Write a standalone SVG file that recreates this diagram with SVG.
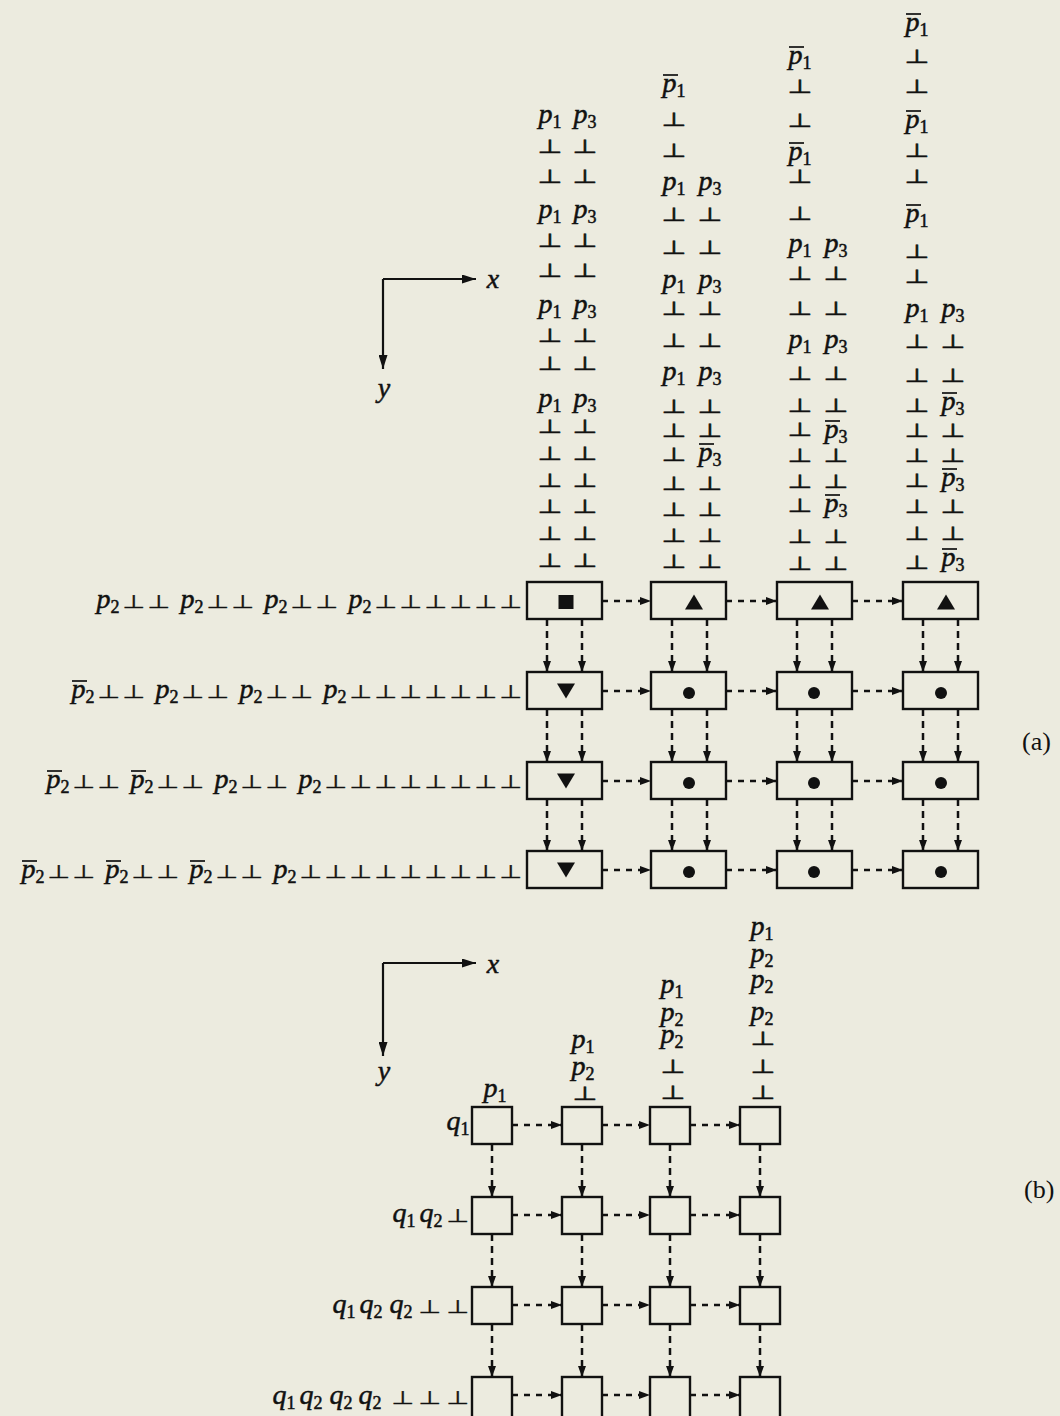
<svg xmlns="http://www.w3.org/2000/svg" width="1060" height="1416" viewBox="0 0 1060 1416">
<style>
.m{font-family:"Liberation Serif",serif;font-style:italic;font-size:28px;fill:#111;stroke:#111;stroke-width:0.5;text-anchor:middle}
.s{font-style:normal;font-size:18px}
.bv{font-family:"DejaVu Sans",sans-serif;font-size:19px;fill:#111;stroke:#111;stroke-width:0.5;text-anchor:middle}
.bh{font-family:"DejaVu Sans",sans-serif;font-size:26px;fill:#111;stroke:#111;stroke-width:0.5;text-anchor:middle}
.bar{stroke:#111;stroke-width:1.7}
.box{fill:none;stroke:#111;stroke-width:2.4}
.sym{fill:#111}
.dh{fill:none;stroke:#111;stroke-width:2.5;stroke-dasharray:6 6;marker-end:url(#ah)}
.dv{fill:none;stroke:#111;stroke-width:2.5;stroke-dasharray:7 5;marker-end:url(#ah)}
.ax{fill:none;stroke:#111;stroke-width:2.2;marker-end:url(#ah2)}
.lab{font-family:"Liberation Serif",serif;font-size:26px;fill:#111}
</style>
<defs>
<marker id="ah" viewBox="0 0 11 8" refX="11" refY="4" markerWidth="11" markerHeight="8" markerUnits="userSpaceOnUse" orient="auto"><path d="M0,0 L11,4 L0,8 z" fill="#111"/></marker>
<marker id="ah2" viewBox="0 0 14 9" refX="14" refY="4.5" markerWidth="14" markerHeight="9" markerUnits="userSpaceOnUse" orient="auto"><path d="M0,0 L14,4.5 L0,9 z" fill="#111"/></marker>
</defs>
<rect x="0" y="0" width="1060" height="1416" fill="#ecebdf"/>

<!-- ===== Part (a) ===== -->
<g id="axes-a">
<path class="ax" d="M383,279 H476"/>
<path class="ax" d="M383,279 V369"/>
<text class="m" x="493" y="288">x</text>
<text class="m" x="384" y="397">y</text>
</g>

<g id="col-a1">
<text class="m" x="550" y="123">p<tspan class="s" dy="5">1</tspan></text>
<text class="m" x="585" y="123">p<tspan class="s" dy="5">3</tspan></text>
<text class="m" x="550" y="218">p<tspan class="s" dy="5">1</tspan></text>
<text class="m" x="585" y="218">p<tspan class="s" dy="5">3</tspan></text>
<text class="m" x="550" y="313">p<tspan class="s" dy="5">1</tspan></text>
<text class="m" x="585" y="313">p<tspan class="s" dy="5">3</tspan></text>
<text class="m" x="550" y="407">p<tspan class="s" dy="5">1</tspan></text>
<text class="m" x="585" y="407">p<tspan class="s" dy="5">3</tspan></text>
<text class="bv" transform="matrix(1.5 0 0 1 -275 0)" x="550 550 550 550 550 550 550 550 550 550 550 550" y="153 183 247 277 342 370 433 460 487 513 540 567">⊥⊥⊥⊥⊥⊥⊥⊥⊥⊥⊥⊥</text>
<text class="bv" transform="matrix(1.5 0 0 1 -292.5 0)" x="585 585 585 585 585 585 585 585 585 585 585 585" y="153 183 247 277 342 370 433 460 487 513 540 567">⊥⊥⊥⊥⊥⊥⊥⊥⊥⊥⊥⊥</text>
</g>

<g id="col-a2">
<text class="m" x="674" y="92">p<tspan class="s" dy="5">1</tspan></text>
<line class="bar" x1="663" y1="75" x2="678" y2="75"/>
<text class="m" x="674" y="190">p<tspan class="s" dy="5">1</tspan></text>
<text class="m" x="710" y="190">p<tspan class="s" dy="5">3</tspan></text>
<text class="m" x="674" y="288">p<tspan class="s" dy="5">1</tspan></text>
<text class="m" x="710" y="288">p<tspan class="s" dy="5">3</tspan></text>
<text class="m" x="674" y="380">p<tspan class="s" dy="5">1</tspan></text>
<text class="m" x="710" y="380">p<tspan class="s" dy="5">3</tspan></text>
<text class="m" x="710" y="461">p<tspan class="s" dy="5">3</tspan></text>
<line class="bar" x1="699" y1="444" x2="714" y2="444"/>
<text class="bv" transform="matrix(1.5 0 0 1 -337 0)" x="674 674 674 674 674 674 674 674 674 674 674 674 674" y="126 157 221 254 315 347 413 437 461 490 516 542 568">⊥⊥⊥⊥⊥⊥⊥⊥⊥⊥⊥⊥⊥</text>
<text class="bv" transform="matrix(1.5 0 0 1 -355 0)" x="710 710 710 710 710 710 710 710 710 710" y="221 254 315 347 413 437 490 516 542 568">⊥⊥⊥⊥⊥⊥⊥⊥⊥⊥</text>
</g>

<g id="col-a3">
<text class="m" x="800" y="64">p<tspan class="s" dy="5">1</tspan></text>
<line class="bar" x1="789" y1="47" x2="804" y2="47"/>
<text class="m" x="800" y="160">p<tspan class="s" dy="5">1</tspan></text>
<line class="bar" x1="789" y1="143" x2="804" y2="143"/>
<text class="m" x="800" y="252">p<tspan class="s" dy="5">1</tspan></text>
<text class="m" x="836" y="252">p<tspan class="s" dy="5">3</tspan></text>
<text class="m" x="800" y="348">p<tspan class="s" dy="5">1</tspan></text>
<text class="m" x="836" y="348">p<tspan class="s" dy="5">3</tspan></text>
<text class="m" x="836" y="438">p<tspan class="s" dy="5">3</tspan></text>
<line class="bar" x1="825" y1="421" x2="840" y2="421"/>
<text class="m" x="836" y="512">p<tspan class="s" dy="5">3</tspan></text>
<line class="bar" x1="825" y1="495" x2="840" y2="495"/>
<text class="bv" transform="matrix(1.5 0 0 1 -400 0)" x="800 800 800 800 800 800 800 800 800 800 800 800 800 800" y="93 127 183 220 280 315 380 412 436 462 488 512 543 570">⊥⊥⊥⊥⊥⊥⊥⊥⊥⊥⊥⊥⊥⊥</text>
<text class="bv" transform="matrix(1.5 0 0 1 -418 0)" x="836 836 836 836 836 836 836 836" y="280 315 380 412 462 488 543 570">⊥⊥⊥⊥⊥⊥⊥⊥</text>
</g>

<g id="col-a4">
<text class="m" x="917" y="31">p<tspan class="s" dy="5">1</tspan></text>
<line class="bar" x1="906" y1="14" x2="921" y2="14"/>
<text class="m" x="917" y="128">p<tspan class="s" dy="5">1</tspan></text>
<line class="bar" x1="906" y1="111" x2="921" y2="111"/>
<text class="m" x="917" y="222">p<tspan class="s" dy="5">1</tspan></text>
<line class="bar" x1="906" y1="205" x2="921" y2="205"/>
<text class="m" x="917" y="317">p<tspan class="s" dy="5">1</tspan></text>
<text class="m" x="953" y="317">p<tspan class="s" dy="5">3</tspan></text>
<text class="m" x="953" y="410">p<tspan class="s" dy="5">3</tspan></text>
<line class="bar" x1="942" y1="393" x2="957" y2="393"/>
<text class="m" x="953" y="486">p<tspan class="s" dy="5">3</tspan></text>
<line class="bar" x1="942" y1="469" x2="957" y2="469"/>
<text class="m" x="953" y="566">p<tspan class="s" dy="5">3</tspan></text>
<line class="bar" x1="942" y1="549" x2="957" y2="549"/>
<text class="bv" transform="matrix(1.5 0 0 1 -458.5 0)" x="917 917 917 917 917 917 917 917 917 917 917 917 917 917 917" y="63 93 157 183 258 283 348 382 412 437 462 487 513 540 569">⊥⊥⊥⊥⊥⊥⊥⊥⊥⊥⊥⊥⊥⊥⊥</text>
<text class="bv" transform="matrix(1.5 0 0 1 -476.5 0)" x="953 953 953 953 953 953" y="348 382 437 462 513 540">⊥⊥⊥⊥⊥⊥</text>
</g>

<g id="row-a1">
<text class="m" x="108" y="608">p<tspan class="s" dy="5">2</tspan></text>
<text class="m" x="192" y="608">p<tspan class="s" dy="5">2</tspan></text>
<text class="m" x="276" y="608">p<tspan class="s" dy="5">2</tspan></text>
<text class="m" x="360" y="608">p<tspan class="s" dy="5">2</tspan></text>
<text class="bh" transform="matrix(1 0 0 0.7 0 182.4)" x="134 159 218 243 302 327 386 411 436 461 486 511" y="608">⊥⊥⊥⊥⊥⊥⊥⊥⊥⊥⊥⊥</text>
</g>
<g id="row-a2">
<text class="m" x="83" y="698">p<tspan class="s" dy="5">2</tspan></text>
<line class="bar" x1="72" y1="681" x2="87" y2="681"/>
<text class="m" x="167" y="698">p<tspan class="s" dy="5">2</tspan></text>
<text class="m" x="251" y="698">p<tspan class="s" dy="5">2</tspan></text>
<text class="m" x="335" y="698">p<tspan class="s" dy="5">2</tspan></text>
<text class="bh" transform="matrix(1 0 0 0.7 0 209.4)" x="109 134 193 218 277 302 361 386 411 436 461 486 511" y="698">⊥⊥⊥⊥⊥⊥⊥⊥⊥⊥⊥⊥⊥</text>
</g>
<g id="row-a3">
<text class="m" x="58" y="788">p<tspan class="s" dy="5">2</tspan></text>
<line class="bar" x1="47" y1="771" x2="62" y2="771"/>
<text class="m" x="142" y="788">p<tspan class="s" dy="5">2</tspan></text>
<line class="bar" x1="131" y1="771" x2="146" y2="771"/>
<text class="m" x="226" y="788">p<tspan class="s" dy="5">2</tspan></text>
<text class="m" x="310" y="788">p<tspan class="s" dy="5">2</tspan></text>
<text class="bh" transform="matrix(1 0 0 0.7 0 236.4)" x="84 109 168 193 252 277 336 361 386 411 436 461 486 511" y="788">⊥⊥⊥⊥⊥⊥⊥⊥⊥⊥⊥⊥⊥⊥</text>
</g>
<g id="row-a4">
<text class="m" x="33" y="878">p<tspan class="s" dy="5">2</tspan></text>
<line class="bar" x1="22" y1="861" x2="37" y2="861"/>
<text class="m" x="117" y="878">p<tspan class="s" dy="5">2</tspan></text>
<line class="bar" x1="106" y1="861" x2="121" y2="861"/>
<text class="m" x="201" y="878">p<tspan class="s" dy="5">2</tspan></text>
<line class="bar" x1="190" y1="861" x2="205" y2="861"/>
<text class="m" x="285" y="878">p<tspan class="s" dy="5">2</tspan></text>
<text class="bh" transform="matrix(1 0 0 0.7 0 263.4)" x="59 84 143 168 227 252 311 336 361 386 411 436 461 486 511" y="878">⊥⊥⊥⊥⊥⊥⊥⊥⊥⊥⊥⊥⊥⊥⊥</text>
</g>

<g id="a-r1c1"><rect class="box" x="527" y="582" width="75" height="37"/><rect class="sym" x="558.5" y="595" width="15" height="14"/></g>
<g id="a-r1c2"><rect class="box" x="651" y="582" width="75" height="37"/><polygon class="sym" points="685,609.5 703,609.5 694,594.5"/></g>
<g id="a-r1c3"><rect class="box" x="777" y="582" width="75" height="37"/><polygon class="sym" points="811,609.5 829,609.5 820,594.5"/></g>
<g id="a-r1c4"><rect class="box" x="903" y="582" width="75" height="37"/><polygon class="sym" points="937,609.5 955,609.5 946,594.5"/></g>
<g id="a-r2c1"><rect class="box" x="527" y="672" width="75" height="37"/><polygon class="sym" points="557,683.5 575,683.5 566,698.5"/></g>
<g id="a-r2c2"><rect class="box" x="651" y="672" width="75" height="37"/><circle class="sym" cx="689" cy="693" r="6"/></g>
<g id="a-r2c3"><rect class="box" x="777" y="672" width="75" height="37"/><circle class="sym" cx="814" cy="693" r="6"/></g>
<g id="a-r2c4"><rect class="box" x="903" y="672" width="75" height="37"/><circle class="sym" cx="941" cy="693" r="6"/></g>
<g id="a-r3c1"><rect class="box" x="527" y="762" width="75" height="37"/><polygon class="sym" points="557,773.5 575,773.5 566,788.5"/></g>
<g id="a-r3c2"><rect class="box" x="651" y="762" width="75" height="37"/><circle class="sym" cx="689" cy="783" r="6"/></g>
<g id="a-r3c3"><rect class="box" x="777" y="762" width="75" height="37"/><circle class="sym" cx="814" cy="783" r="6"/></g>
<g id="a-r3c4"><rect class="box" x="903" y="762" width="75" height="37"/><circle class="sym" cx="941" cy="783" r="6"/></g>
<g id="a-r4c1"><rect class="box" x="527" y="851" width="75" height="37"/><polygon class="sym" points="557,862.5 575,862.5 566,877.5"/></g>
<g id="a-r4c2"><rect class="box" x="651" y="851" width="75" height="37"/><circle class="sym" cx="689" cy="872" r="6"/></g>
<g id="a-r4c3"><rect class="box" x="777" y="851" width="75" height="37"/><circle class="sym" cx="814" cy="872" r="6"/></g>
<g id="a-r4c4"><rect class="box" x="903" y="851" width="75" height="37"/><circle class="sym" cx="941" cy="872" r="6"/></g>

<g id="connectors-a">
<path class="dh" d="M602,601 H651"/><path class="dh" d="M726,601 H777"/><path class="dh" d="M852,601 H903"/>
<path class="dh" d="M602,691 H651"/><path class="dh" d="M726,691 H777"/><path class="dh" d="M852,691 H903"/>
<path class="dh" d="M602,781 H651"/><path class="dh" d="M726,781 H777"/><path class="dh" d="M852,781 H903"/>
<path class="dh" d="M602,870 H651"/><path class="dh" d="M726,870 H777"/><path class="dh" d="M852,870 H903"/>
<path class="dv" d="M547,619 V672"/><path class="dv" d="M582,619 V672"/><path class="dv" d="M672,619 V672"/><path class="dv" d="M707,619 V672"/>
<path class="dv" d="M797,619 V672"/><path class="dv" d="M832,619 V672"/><path class="dv" d="M923,619 V672"/><path class="dv" d="M958,619 V672"/>
<path class="dv" d="M547,709 V762"/><path class="dv" d="M582,709 V762"/><path class="dv" d="M672,709 V762"/><path class="dv" d="M707,709 V762"/>
<path class="dv" d="M797,709 V762"/><path class="dv" d="M832,709 V762"/><path class="dv" d="M923,709 V762"/><path class="dv" d="M958,709 V762"/>
<path class="dv" d="M547,799 V851"/><path class="dv" d="M582,799 V851"/><path class="dv" d="M672,799 V851"/><path class="dv" d="M707,799 V851"/>
<path class="dv" d="M797,799 V851"/><path class="dv" d="M832,799 V851"/><path class="dv" d="M923,799 V851"/><path class="dv" d="M958,799 V851"/>
</g>

<text class="lab" x="1022" y="750">(a)</text>

<!-- ===== Part (b) ===== -->
<g id="axes-b">
<path class="ax" d="M383,963 H476"/>
<path class="ax" d="M383,963 V1056"/>
<text class="m" x="493" y="973">x</text>
<text class="m" x="384" y="1080">y</text>
</g>

<g id="col-b1">
<text class="m" x="495" y="1097">p<tspan class="s" dy="5">1</tspan></text>
</g>
<g id="col-b2">
<text class="m" x="583" y="1048">p<tspan class="s" dy="5">1</tspan></text>
<text class="m" x="583" y="1075">p<tspan class="s" dy="5">2</tspan></text>
<text class="bv" transform="matrix(1.5 0 0 1 -292.5 0)" x="585" y="1100">⊥</text>
</g>
<g id="col-b3">
<text class="m" x="672" y="993">p<tspan class="s" dy="5">1</tspan></text>
<text class="m" x="672" y="1021">p<tspan class="s" dy="5">2</tspan></text>
<text class="m" x="672" y="1043">p<tspan class="s" dy="5">2</tspan></text>
<text class="bv" transform="matrix(1.5 0 0 1 -336.5 0)" x="673 673" y="1073 1099">⊥⊥</text>
</g>
<g id="col-b4">
<text class="m" x="762" y="935">p<tspan class="s" dy="5">1</tspan></text>
<text class="m" x="762" y="962">p<tspan class="s" dy="5">2</tspan></text>
<text class="m" x="762" y="988">p<tspan class="s" dy="5">2</tspan></text>
<text class="m" x="762" y="1020">p<tspan class="s" dy="5">2</tspan></text>
<text class="bv" transform="matrix(1.5 0 0 1 -381.5 0)" x="763 763 763" y="1045 1073 1099">⊥⊥⊥</text>
</g>

<g id="row-b1">
<text class="m" x="458" y="1130">q<tspan class="s" dy="5">1</tspan></text>
</g>
<g id="row-b2">
<text class="m" x="404" y="1222">q<tspan class="s" dy="5">1</tspan></text>
<text class="m" x="431" y="1222">q<tspan class="s" dy="5">2</tspan></text>
<text class="bh" transform="matrix(1 0 0 0.7 0 366.6)" x="458" y="1222">⊥</text>
</g>
<g id="row-b3">
<text class="m" x="344" y="1313">q<tspan class="s" dy="5">1</tspan></text>
<text class="m" x="371" y="1313">q<tspan class="s" dy="5">2</tspan></text>
<text class="m" x="401" y="1313">q<tspan class="s" dy="5">2</tspan></text>
<text class="bh" transform="matrix(1 0 0 0.7 0 393.9)" x="430 458" y="1313">⊥⊥</text>
</g>
<g id="row-b4">
<text class="m" x="284" y="1404">q<tspan class="s" dy="5">1</tspan></text>
<text class="m" x="311" y="1404">q<tspan class="s" dy="5">2</tspan></text>
<text class="m" x="341" y="1404">q<tspan class="s" dy="5">2</tspan></text>
<text class="m" x="370" y="1404">q<tspan class="s" dy="5">2</tspan></text>
<text class="bh" transform="matrix(1 0 0 0.7 0 421.2)" x="403 430 458" y="1404">⊥⊥⊥</text>
</g>

<g id="b-r1c1"><rect class="box" x="472" y="1107" width="40" height="37"/></g>
<g id="b-r1c2"><rect class="box" x="562" y="1107" width="40" height="37"/></g>
<g id="b-r1c3"><rect class="box" x="650" y="1107" width="40" height="37"/></g>
<g id="b-r1c4"><rect class="box" x="740" y="1107" width="40" height="37"/></g>
<g id="b-r2c1"><rect class="box" x="472" y="1197" width="40" height="37"/></g>
<g id="b-r2c2"><rect class="box" x="562" y="1197" width="40" height="37"/></g>
<g id="b-r2c3"><rect class="box" x="650" y="1197" width="40" height="37"/></g>
<g id="b-r2c4"><rect class="box" x="740" y="1197" width="40" height="37"/></g>
<g id="b-r3c1"><rect class="box" x="472" y="1287" width="40" height="37"/></g>
<g id="b-r3c2"><rect class="box" x="562" y="1287" width="40" height="37"/></g>
<g id="b-r3c3"><rect class="box" x="650" y="1287" width="40" height="37"/></g>
<g id="b-r3c4"><rect class="box" x="740" y="1287" width="40" height="37"/></g>
<g id="b-r4c1"><rect class="box" x="472" y="1377" width="40" height="42"/></g>
<g id="b-r4c2"><rect class="box" x="562" y="1377" width="40" height="42"/></g>
<g id="b-r4c3"><rect class="box" x="650" y="1377" width="40" height="42"/></g>
<g id="b-r4c4"><rect class="box" x="740" y="1377" width="40" height="42"/></g>

<g id="connectors-b">
<path class="dh" d="M512,1125 H562"/><path class="dh" d="M602,1125 H650"/><path class="dh" d="M690,1125 H740"/>
<path class="dh" d="M512,1215 H562"/><path class="dh" d="M602,1215 H650"/><path class="dh" d="M690,1215 H740"/>
<path class="dh" d="M512,1305 H562"/><path class="dh" d="M602,1305 H650"/><path class="dh" d="M690,1305 H740"/>
<path class="dh" d="M512,1395 H562"/><path class="dh" d="M602,1395 H650"/><path class="dh" d="M690,1395 H740"/>
<path class="dv" d="M492,1144 V1197"/><path class="dv" d="M582,1144 V1197"/><path class="dv" d="M670,1144 V1197"/><path class="dv" d="M760,1144 V1197"/>
<path class="dv" d="M492,1234 V1287"/><path class="dv" d="M582,1234 V1287"/><path class="dv" d="M670,1234 V1287"/><path class="dv" d="M760,1234 V1287"/>
<path class="dv" d="M492,1324 V1377"/><path class="dv" d="M582,1324 V1377"/><path class="dv" d="M670,1324 V1377"/><path class="dv" d="M760,1324 V1377"/>
</g>

<text class="lab" x="1024" y="1198">(b)</text>
</svg>
